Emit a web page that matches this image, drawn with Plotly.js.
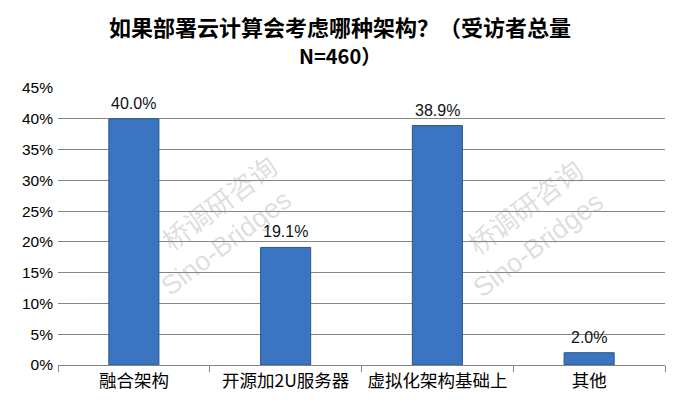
<!DOCTYPE html>
<html><head><meta charset="utf-8">
<script src="https://cdn.plot.ly/plotly-3.0.1.min.js"></script>
<style>body{margin:0;background:#fff}#c{width:676px;height:410px}</style>
</head><body><div id="c"></div>
<script>
const categories = ["融合架构", "开源加2U服务器", "虚拟化架构基础上", "其他"];
const values = [0.400, 0.191, 0.389, 0.020];
const labels = ["40.0%", "19.1%", "38.9%", "2.0%"];
const yTicks = [0, 0.05, 0.10, 0.15, 0.20, 0.25, 0.30, 0.35, 0.40, 0.45];
const yTickText = ["0%", "5%", "10%", "15%", "20%", "25%", "30%", "35%", "40%", "45%"];
const titleLines = ["如果部署云计算会考虑哪种架构？（受访者总量", "N=460）"];
const watermarkCn = "桥调研咨询";
const watermarkEn = "Sino-Bridges";

const trace = {
  type: "bar",
  x: categories,
  y: values,
  width: 0.33,
  marker: {color: "#3b74c0", line: {color: "#2a568f", width: 1}},
  hoverinfo: "none"
};

const wmFont = (fam) => ({size: 27, color: "rgba(150,150,150,0.33)", family: fam});
const wm = (x1, y1, x2, y2) => ([
  {xref: "paper", yref: "paper", x: x1, y: y1, text: watermarkCn, showarrow: false, textangle: -37,
   xanchor: "center", yanchor: "middle", font: wmFont("'Noto Sans CJK SC', sans-serif")},
  {xref: "paper", yref: "paper", x: x2, y: y2, text: watermarkEn, showarrow: false, textangle: -37,
   xanchor: "center", yanchor: "middle", font: wmFont("'Liberation Sans', sans-serif")}
]);

const valueLabels = categories.map((c, i) => ({
  x: c, y: values[i], xref: "x", yref: "y", text: labels[i], showarrow: false,
  yanchor: "bottom", yshift: 5,
  font: {size: 16, color: "#111", family: "'Liberation Sans', sans-serif"}
}));

const titleAnns = [
  {xref: "paper", yref: "paper", x: 0.465, y: 1.224, text: titleLines[0], showarrow: false,
   xanchor: "center", yanchor: "middle",
   font: {size: 22, color: "#000", family: "'Noto Sans CJK SC', sans-serif", weight: "bold"}},
  {xref: "paper", yref: "paper", x: 0.465, y: 1.119, text: titleLines[1], showarrow: false,
   xanchor: "center", yanchor: "middle",
   font: {size: 20, color: "#000", family: "'Noto Sans CJK SC', sans-serif", weight: "bold"}}
];

const layout = {
  width: 676, height: 410,
  margin: {l: 58, r: 11, t: 88, b: 45},
  paper_bgcolor: "#fff", plot_bgcolor: "#fff",
  showlegend: false,
  xaxis: {
    type: "category",
    tickson: "boundaries",
    ticks: "outside", ticklen: 6, tickcolor: "#868686", tickwidth: 1,
    showline: true, linecolor: "#868686", linewidth: 1,
    showgrid: false,
    tickangle: 0,
    tickfont: {size: 17.5, color: "#000", family: "'Noto Sans CJK SC', sans-serif"},
    fixedrange: true
  },
  yaxis: {
    range: [0, 0.45],
    tickvals: yTicks, ticktext: yTickText,
    showgrid: true, gridcolor: "#868686", gridwidth: 1,
    zeroline: false, showline: false, ticks: "",
    tickfont: {size: 15.5, color: "#000", family: "'Liberation Sans', sans-serif"},
    ticklabelstandoff: 4,
    fixedrange: true
  },
  annotations: [...wm(0.264, 0.588, 0.277, 0.44), ...wm(0.768, 0.574, 0.791, 0.433), ...valueLabels, ...titleAnns]
};

Plotly.newPlot("c", [trace], layout, {displayModeBar: false, staticPlot: true});
</script>
</body></html>
